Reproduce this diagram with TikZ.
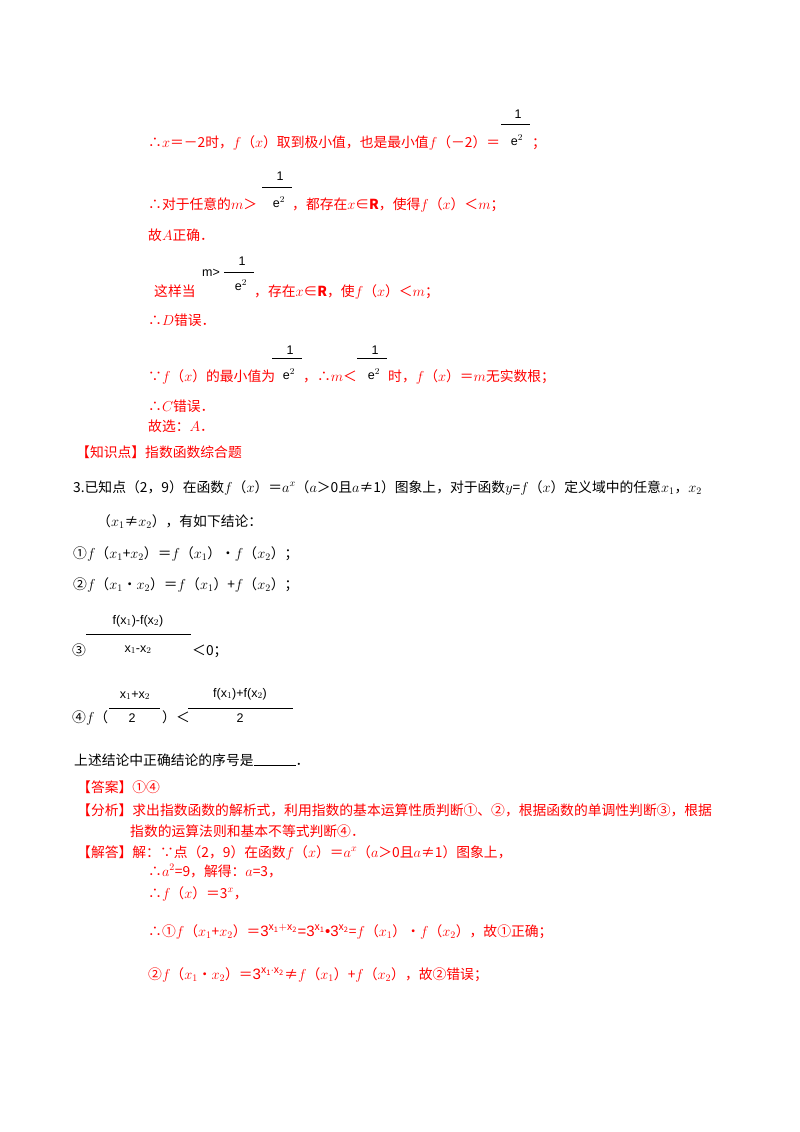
\documentclass[tikz,border=0pt]{standalone}
\usepackage{fontspec}
\setmainfont{Noto Sans CJK SC}
\newfontfamily\fs{Liberation Sans}
\begin{document}
\begin{tikzpicture}[x=1pt,y=-1pt,
 t/.style={anchor=base west,inner sep=0pt,font=\fontsize{13.8}{16}\selectfont},
 r/.style={t,text=red},
 fr/.style={anchor=base,inner sep=0pt,font=\fs\fontsize{12.5}{14}\selectfont},
 bar/.style={line width=0.6pt},
 mn/.style={line width=0.7pt}]
\useasboundingbox[fill=white] (0,0) rectangle (800,1132);
% line 1
\node[r] (l1) at (148,147) {∴$x$＝－2时，$f$（$x$）取到极小值，也是最小值$f$（－2）＝};
\draw[mn] (501,124.5) -- (507,124.5);
\node[fr] (f1n) at (518,118) {1};
\node[fr] (f1d) at (517,145) {e$^{2}$};
\draw[bar] (507,124) -- (530,124);
\node[r] (l1b) at (532,147) {；};
% line 2
\node[r] (l2) at (148,209) {∴对于任意的$m$＞};
\draw[mn] (262,187.5) -- (268,187.5);
\node[fr] (f2n) at (280,180) {1};
\node[fr] (f2d) at (279,207) {e$^{2}$};
\draw[bar] (268,187) -- (292,187);
\node[r] (l2b) at (292,209) {，都存在$x$∈\textbf{R}，使得$f$（$x$）＜$m$；};
\node[r] (l3) at (148,240) {故$A$正确．};
% line 4
\node[r] (l4) at (154,296) {这样当};
\node[fr] (m4) at (211,276) {m>};
\draw[mn] (224,272.5) -- (230,272.5);
\node[fr] (f4n) at (242,265) {1};
\node[fr] (f4d) at (241,290) {e$^{2}$};
\draw[bar] (230,272) -- (254,272);
\node[r] (l4b) at (254,296) {，存在$x$∈\textbf{R}，使$f$（$x$）＜$m$；};
\node[r] (l5) at (148,325) {∴$D$错误．};
% line 6
\node[r] (l6) at (148,381) {∵$f$（$x$）的最小值为};
\draw[mn] (272,358.5) -- (278,358.5);
\node[fr] (f6n) at (290,354) {1};
\node[fr] (f6d) at (289,379) {e$^{2}$};
\draw[bar] (278,358) -- (302,358);
\node[r] (l6b) at (303,381) {，∴$m$＜};
\draw[mn] (357,358.5) -- (363,358.5);
\node[fr] (f7n) at (375,354) {1};
\node[fr] (f7d) at (374,379) {e$^{2}$};
\draw[bar] (363,358) -- (387,358);
\node[r] (l6c) at (388,381) {时，$f$（$x$）＝$m$无实数根；};
\node[r] (l7) at (148,411) {∴$C$错误．};
\node[r] (l8) at (148,431) {故选：$A$．};
\node[r] (l9) at (76,457) {【知识点】指数函数综合题};
% question
\node[t] (q1) at (73,492) {3.已知点（2，9）在函数$f$（$x$）＝$a^x$（$a$＞0且$a$≠1）图象上，对于函数$y$=$f$（$x$）定义域中的任意$x_1$，$x_2$};
\node[t] (q2) at (97,526) {（$x_1$≠$x_2$），有如下结论：};
\node[t] (q3) at (73,558) {①$f$（$x_1$+$x_2$）＝$f$（$x_1$）•$f$（$x_2$）；};
\node[t] (q4) at (73,589) {②$f$（$x_1$•$x_2$）＝$f$（$x_1$）+$f$（$x_2$）；};
\node[fr] (q5n) at (138,624) {f(x$_1$)-f(x$_2$)};
\draw[bar] (86,634) -- (191,634);
\node[fr] (q5d) at (138,652) {x$_1$-x$_2$};
\node[t] (q5) at (72,655) {③};
\node[t] (q5b) at (192,655) {＜0；};
\node[t] (q6) at (72,722) {④$f$（};
\node[fr] (q6n) at (135,698) {x$_1$+x$_2$};
\draw[bar] (109,708) -- (160,708);
\node[fr] (q6d) at (132,722) {2};
\node[t] (q6b) at (162,722) {）＜};
\node[fr] (q6m) at (240,697) {f(x$_1$)+f(x$_2$)};
\draw[bar] (188,708) -- (293,708);
\node[fr] (q6e) at (240,722) {2};
\node[t] (q7) at (74,765) {上述结论中正确结论的序号是\rule[-1pt]{42pt}{0.6pt}．};
% answer
\node[r] (a1) at (77,792) {【答案】①④};
\node[r] (a2) at (77,815) {【分析】求出指数函数的解析式，利用指数的基本运算性质判断①、②，根据函数的单调性判断③，根据};
\node[r] (a3) at (130,836) {指数的运算法则和基本不等式判断④．};
\node[r] (a4) at (77,857) {【解答】解：∵点（2，9）在函数$f$（$x$）＝$a^x$（$a$＞0且$a$≠1）图象上，};
\node[r] (a5) at (148,876) {∴$a^2$=9，解得：$a$=3，};
\node[r] (a6) at (148,898) {∴$f$（$x$）＝3$^x$，};
\node[r] (a7) at (148,936) {∴①$f$（$x_1$+$x_2$）＝{\fs\fontsize{15}{17}\selectfont 3$^{\mathrm{x_1+x_2}}$=3$^{\mathrm{x_1}}$•3$^{\mathrm{x_2}}$}=$f$（$x_1$）•$f$（$x_2$），故①正确；};
\node[r] (a8) at (148,979) {②$f$（$x_1$•$x_2$）＝{\fs\fontsize{15}{17}\selectfont 3$^{\mathrm{x_1\cdot x_2}}$}≠$f$（$x_1$）+$f$（$x_2$），故②错误；};
\end{tikzpicture}
\end{document}
